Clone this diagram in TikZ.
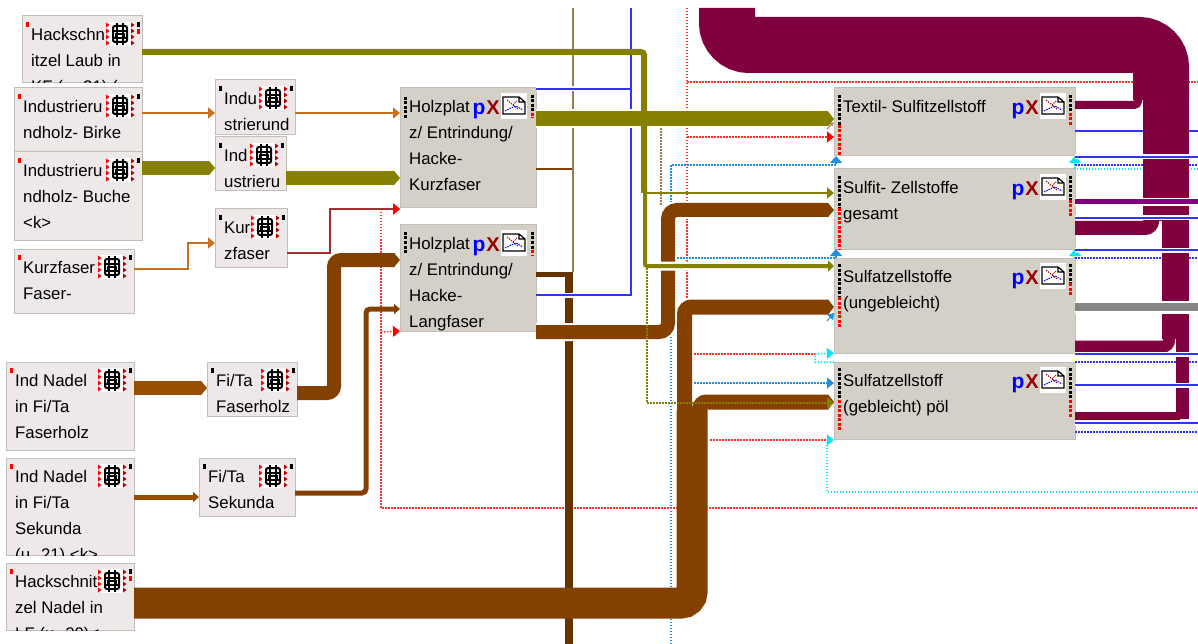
\documentclass[tikz,border=0pt]{standalone}
\usepackage{fontspec}
\setmainfont{Liberation Sans}
\usetikzlibrary{arrows.meta,positioning}
\definecolor{leaffill}{HTML}{EEE8E8}
\definecolor{greyfill}{HTML}{D4D0C8}
\definecolor{boxedge}{HTML}{C2BEBA}
\definecolor{oliveflow}{HTML}{858000}
\definecolor{brownflow}{HTML}{844000}
\definecolor{rustflow}{HTML}{984E00}
\definecolor{darkflow}{HTML}{663300}
\definecolor{thinbrown}{HTML}{A07850}
\definecolor{orangeflow}{HTML}{C8701E}
\definecolor{maroonflow}{HTML}{800040}
\definecolor{purpleflow}{HTML}{800080}
\definecolor{greyflow}{HTML}{858585}
\definecolor{wireblue}{HTML}{3333FF}
\definecolor{dotblue}{HTML}{2090E0}
\definecolor{dotcyan}{HTML}{00E8FF}
\definecolor{dotred}{HTML}{FF3030}
\definecolor{darkwire}{HTML}{A03030}
\newcommand{\boxlabel}[2]{\begin{scope}\clip (#1.north west) rectangle (#1.south east);
    \node[boxtext] (#1-text) at ([shift={(9,11)}]#1.north west) {\rule{0pt}{13pt}#2};\end{scope}}

\begin{document}
\begin{tikzpicture}[
    x=1pt, y=-1pt,
    node distance=8pt,
    leaf/.style={rectangle, draw=boxedge, line width=1pt, fill=leaffill, inner sep=0pt, outer sep=0pt, anchor=north west},
    block/.style={leaf, fill=greyfill},
    boxtext/.style={anchor=north west, inner sep=0pt, align=left, font=\fontsize{16.8}{26}\selectfont},
    pmark/.style={inner sep=0pt, text=blue, font=\fontsize{21}{21}\selectfont\bfseries},
    xmark/.style={inner sep=0pt, text=red!60!black, font=\fontsize{20}{20}\selectfont\bfseries},
    portblack/.style={draw=black, line width=3pt, dash pattern=on 3pt off 1.5pt},
    portred/.style={draw=red, line width=3pt, dash pattern=on 3pt off 1.5pt},
    tagmark/.style={line width=3pt},
    thin tip/.style={-{Triangle[length=7pt,width=11pt]}},
    band tip/.style={-{Triangle[length=6pt,width=#1]}},
    halo/.style={preaction={draw=white, line width=#1, -}},
    wire/.style={draw=wireblue, line width=2pt},
    dotline/.style={line width=1.5pt, dash pattern=on 1.5pt off 1.5pt},
    chipicon/.pic={
        \fill[white] (-11,-12) rectangle (11,12);
        \draw[line width=1.2pt] (-3,-11) -- (-3,11) (3,-11) -- (3,11);
        \draw[line width=2pt, rounded corners=2pt] (-7,-8) rectangle (7,8);
        \draw[line width=1.6pt] (-7,-3) -- (7,-3) (-7,4) -- (7,4);
        \draw[line width=1.2pt] (-4,0) rectangle (4,4);
        \foreach \yy in {-9,-3,3,9}{
            \fill[red] (-14,\yy-2.5) -- (-10.5,\yy) -- (-14,\yy+2.5) -- cycle;
            \fill[red!70!black] (11,\yy-2.5) -- (14.5,\yy) -- (11,\yy+2.5) -- cycle;
        }
    },
    charticon/.pic={
        \fill[white] (-13,-13) rectangle (13,13);
        \draw[line width=1.2pt] (-11,-9) -- (5,-9) -- (11,-4) -- (11,8) -- (-11,8) -- cycle (5,-9) -- (5,-4) -- (11,-4);
        \draw[red!70!black, line width=1pt, dash pattern=on 1.5pt off 1pt] (-7,-6) -- (-1,-1) -- (3,-5) (-1,-1) -- (4,3);
        \draw[blue, line width=1pt, dash pattern=on 1.5pt off 1pt] (-9,5) -- (-3,2) -- (2,0) -- (9,4);
    }
]
    \useasboundingbox (0,0) rectangle (1198,644);

    % source boxes
    \node[leaf, minimum width=120, minimum height=67] (laub) at (22,16) {};
    \node[leaf, minimum width=128, minimum height=64] (birke) at (14,88) {};
    \node[leaf, minimum width=128, minimum height=89, below=0pt of birke.south west, anchor=north west] (buche) {};
    \node[leaf, minimum width=120, minimum height=64, below=of buche.south west, anchor=north west] (kurzleaf) {};
    \node[leaf, minimum width=128, minimum height=88] (nadelfaser) at (6,362) {};
    \node[leaf, minimum width=128, minimum height=97, below=of nadelfaser.south west, anchor=north west] (nadelsek) {};
    \node[leaf, minimum width=128, minimum height=67, below=of nadelsek.south west, anchor=north west] (nadelhack) {};
    \node[leaf, minimum width=80, minimum height=55] (indu) at (215,80) {};
    \node[leaf, minimum width=71, minimum height=54] (ind) at (215,137) {};
    \node[leaf, minimum width=72, minimum height=58] (kur) at (215,209) {};
    \node[leaf, minimum width=90, minimum height=54] (fifaser) at (207,362) {};
    \node[leaf, minimum width=96, minimum height=58] (fisek) at (199,458) {};
    % process boxes
    \node[block, minimum width=136, minimum height=120] (holzkurz) at (400,88) {};
    \node[block, minimum width=136, minimum height=106, below=17pt of holzkurz.south west, anchor=north west] (holzlang) {};
    \node[block, minimum width=241, minimum height=68] (textil) at (834,88) {};
    \node[block, minimum width=241, minimum height=80, below=13pt of textil.south west, anchor=north west] (sulfit) {};
    \node[block, minimum width=241, minimum height=95, below=9pt of sulfit.south west, anchor=north west] (sulfa) {};
    \node[block, minimum width=241, minimum height=77, below=9pt of sulfa.south west, anchor=north west] (sulfg) {};

    \boxlabel{laub}{Hackschn\\itzel Laub in\\KF (u. 21) (}
    \boxlabel{birke}{Industrieru\\ndholz- Birke}
    \boxlabel{buche}{Industrieru\\ndholz- Buche\\<k>}
    \boxlabel{kurzleaf}{Kurzfaser\\Faser-}
    \boxlabel{nadelfaser}{Ind Nadel\\in Fi/Ta\\Faserholz}
    \boxlabel{nadelsek}{Ind Nadel\\in Fi/Ta\\Sekunda\\(u. 21) <k>}
    \boxlabel{nadelhack}{Hackschnit\\zel Nadel in\\LF (u. 20)<}
    \boxlabel{indu}{Indu\\strierund}
    \boxlabel{ind}{Ind\\ustrieru}
    \boxlabel{kur}{Kur\\zfaser}
    \boxlabel{fifaser}{Fi/Ta\\Faserholz}
    \boxlabel{fisek}{Fi/Ta\\Sekunda}
    \boxlabel{holzkurz}{Holzplat\\z/ Entrindung/\\Hacke-\\Kurzfaser}
    \boxlabel{holzlang}{Holzplat\\z/ Entrindung/\\Hacke-\\Langfaser}
    \boxlabel{textil}{Textil- Sulfitzellstoff}
    \boxlabel{sulfit}{Sulfit- Zellstoffe\\gesamt}
    \boxlabel{sulfa}{Sulfatzellstoffe\\(ungebleicht)}
    \boxlabel{sulfg}{Sulfatzellstoff\\(gebleicht) pöl}

    \foreach \nm/\tagcol in {laub/red, birke/red, buche/red, kurzleaf/red, nadelfaser/red, nadelsek/red, nadelhack/red, indu/black, ind/black, kur/black, fifaser/black, fisek/black}{
        \pic at ([shift={(-22,18)}]\nm.north east) {chipicon};
        \draw[tagmark, \tagcol] ([shift={(5,6)}]\nm.north west) -- ([shift={(5,11)}]\nm.north west);
        \draw[tagmark, black] ([shift={(-4,6)}]\nm.north east) -- ([shift={(-4,11)}]\nm.north east);
    }
    \draw[tagmark, red] ([shift={(-4,13)}]laub.north east) -- ([shift={(-4,18)}]laub.north east);
    \draw[tagmark, red] ([shift={(-4,13)}]nadelhack.north east) -- ([shift={(-4,18)}]nadelhack.north east);

    \foreach \nm in {holzkurz, holzlang, textil, sulfit, sulfa, sulfg}{
        \node[pmark] (\nm-p) at ([shift={(-57,23)}]\nm.north east) {p};
        \node[xmark] (\nm-x) at ([shift={(-43,20)}]\nm.north east) {X};
        \pic at ([shift={(-22,18)}]\nm.north east) {charticon};
    }
    \foreach \xx/\ya/\yb/\yc in {405/97/118/118, 532/95/113/118, 405/232/253/253, 532/232/250/255, 839/95/125/155, 1070/95/113/125, 839/176/208/249, 1070/176/200/218, 839/264/297/327, 1070/264/283/295, 839/368/400/431, 1070/368/400/418}{
        \draw[portblack] (\xx,\ya) -- (\xx,\yb);
        \draw[portred] (\xx,\yb) -- (\xx,\yc);
    }

    % dotted links behind the flows
    \coordinate (redtop) at (687,8);
    \coordinate (redend) at (1198,508);
    \draw[dotline, draw=dotred] (redtop) -- (687,299);
    \draw[dotline, draw=dotred] (687,82) -- (1198,82);
    \draw[dotline, draw=dotred, -{Triangle[length=7pt,width=11pt,color=red]}] (687,137) -- (textil.west |- 0,137);
    \draw[dotline, draw=dotred] (381,209) -- (381,508) -- (redend);
    \draw[dotline, draw=dotred, -{Triangle[length=7pt,width=11pt,color=red]}] (381,209) -- (holzkurz.west |- 0,209);
    \draw[dotline, draw=dotred, -{Triangle[length=7pt,width=11pt,color=red]}] (381,332) -- (holzlang.west |- 0,331);
    \draw[dotline, draw=dotred] (694,354) -- (815,354);
    \draw[dotline, draw=dotred] (710,440) -- (827,440);
    \draw[dotline, draw=thinbrown] (661,205) -- (661,119) -- (textil.west |- 0,119);
    \draw[dotline, draw=dotblue, -{Triangle[length=7pt,width=12pt]}] (671,644) -- (671,165) -- (836,165) -- (textil.south west -| 836,0);
    \draw[dotline, draw=dotblue, -{Triangle[length=7pt,width=12pt]}] (671,258) -- (836,258) -- (sulfit.south west -| 836,0);
    \draw[dotline, draw=dotblue, -{Triangle[length=7pt,width=11pt]}] (694,383) -- (sulfg.west |- 0,383);
    \draw[dotline, draw=dotcyan, -{Triangle[length=7pt,width=11pt]}] (sulfg.north west) -- (815,362) -- (815,354) -- (sulfa.south west);
    \draw[dotline, draw=dotcyan, -{Triangle[length=7pt,width=11pt]}] (1198,492) -- (827,492) -- (827,440) -- (sulfg.west |- 0,440);
    \draw[dotline, draw=dotcyan, -{Triangle[length=7pt,width=12pt]}] (1198,169) -- (1075,169) -- (textil.south east);
    \draw[dotline, draw=dotcyan, -{Triangle[length=7pt,width=12pt]}] (1075,258) -- (sulfit.south east);
    \foreach \yy in {165, 258, 362, 432}{
        \draw[dotline, draw=wireblue] (1075,\yy) -- (1198,\yy);
    }
    \draw[wire] (textil.east |- 0,131) -- (1198,131);

    % thin links
    \draw[draw=thinbrown, line width=2pt] (573,8) -- (573,272);
    \draw[wire, halo=5pt] (holzkurz.east |- 0,89) -- (631,89);
    \draw[wire] (holzlang.east |- 0,295) -- (631,295) -- (631,8);
    \draw[draw=brownflow, line width=2pt] (holzkurz.east |- 0,169) -- (572,169);
    \draw[draw=orangeflow, line width=2pt, thin tip] (birke.east |- 0,113) -- (indu.west |- 0,113);
    \draw[draw=orangeflow, line width=2pt, thin tip] (indu.east |- 0,113) -- (holzkurz.west |- 0,113);
    \draw[draw=orangeflow, line width=2pt, thin tip] (kurzleaf.east |- 0,269) -- (188,269) -- (188,243) -- (kur.west |- 0,243);
    \draw[draw=darkwire, line width=2pt, -{Triangle[length=7pt,width=11pt,color=red]}] (kur.east |- 0,253) -- (330,253) -- (330,209) -- (holzkurz.west |- 0,209);
    \draw[draw=darkflow, line width=5pt, rounded corners=2pt] (holzlang.east |- 0,274.5) -- (566,274.5);
    \draw[draw=darkflow, line width=8pt] (569,272) -- (569,644);
    \draw[draw=white, line width=5pt] (555,295) -- (585,295);
    \draw[wire] (holzlang.east |- 0,295) -- (631,295);

    % thick flows
    \draw[draw=oliveflow, line width=14pt, band tip=14pt] (buche.east |- 0,168) -- (ind.west |- 0,168);
    \draw[draw=oliveflow, line width=14pt, band tip=14pt] (ind.east |- 0,178) -- (holzkurz.west |- 0,178);
    \draw[draw=rustflow, line width=14pt, band tip=14pt] (nadelfaser.east |- 0,388) -- (fifaser.west |- 0,388);
    \draw[draw=rustflow, line width=5pt, band tip=10pt] (nadelsek.east |- 0,497) -- (fisek.west |- 0,497);
    \draw[draw=brownflow, line width=14pt, rounded corners=7pt, band tip=14pt] (fifaser.east |- 0,393) -- (334,393) -- (334,260) -- (holzlang.west |- 0,260);
    \draw[draw=brownflow, line width=5pt, rounded corners=4pt, band tip=10pt] (fisek.east |- 0,493) -- (366,493) -- (366,309) -- (holzlang.west |- 0,309);
    \draw[draw=brownflow, line width=14pt, rounded corners=9pt, halo=18pt, band tip=14pt] (holzlang.east |- 0,332) -- (668,332) -- (668,210) -- (sulfit.west |- 0,210);
    \draw[draw=brownflow, line width=31pt, rounded corners=11pt] (nadelhack.east |- 0,603) -- (692,603) -- (692,410);
    \draw[draw=brownflow, line width=15pt, rounded corners=7pt, band tip=15pt] (684.5,412) -- (684.5,307) -- (sulfa.west |- 0,307);
    \draw[draw=brownflow, line width=15pt, rounded corners=7pt, band tip=15pt] (699.5,412) -- (699.5,402) -- (sulfg.west |- 0,402);
    \draw[draw=oliveflow, line width=15pt, halo=19pt, band tip=15pt] (holzkurz.east |- 0,119) -- (textil.west |- 0,119);
    \draw[draw=oliveflow, line width=4pt, rounded corners=2pt, halo=9pt, band tip=11pt] (645,190) -- (645,266) -- (sulfa.west |- 0,266);
    \draw[draw=oliveflow, line width=6pt, rounded corners=3pt] (laub.east |- 0,52) -- (644,52) -- (644,193);
    \draw[draw=oliveflow, line width=2pt, thin tip] (644,193) -- (sulfit.west |- 0,193);
    \draw[dotline, draw=oliveflow, -{Triangle[length=7pt,width=11pt]}] (647,268) -- (647,403) -- (sulfg.west |- 0,403);
    \draw[draw=dotblue, line width=1pt, -{Triangle[length=6pt,width=8pt]}] (827,321) -- (sulfa.west |- 0,313);
    \draw[draw=thinbrown, line width=1pt, -{Triangle[length=4pt,width=3pt]}] (827,129) -- (textil.west |- 0,122);

    % maroon trunk on the right
    \draw[draw=maroonflow, line width=8pt, rounded corners=4pt] (textil.east |- 0,105) -- (1138,105) -- (1138,92);
    \draw[draw=maroonflow, line width=14pt, rounded corners=7pt] (sulfit.east |- 0,228) -- (1152,228) -- (1152,214);
    \draw[draw=maroonflow, line width=12pt, rounded corners=6pt] (sulfa.east |- 0,346.5) -- (1169,346.5) -- (1169,333);
    \draw[draw=maroonflow, line width=8pt] (sulfg.east |- 0,415.5) -- (1180,415.5);
    \draw[draw=maroonflow, line width=56pt, rounded corners=22pt] (727,8) -- (727,45) -- (1161,45) -- (1161,100);
    \draw[draw=maroonflow, line width=46pt] (1166,98) -- (1166,221);
    \draw[draw=maroonflow, line width=27pt] (1175.5,219) -- (1175.5,339);
    \draw[draw=maroonflow, line width=13pt] (1182.5,337) -- (1182.5,419);

    % links in front of the trunk
    \foreach \nm/\yy in {textil/157, sulfit/218, sulfit/250, sulfa/354, sulfg/385, sulfg/423}{
        \draw[wire, halo=5pt] (\nm.east |- 0,\yy) -- (1198,\yy);
    }
    \draw[draw=purpleflow, line width=5pt, halo=8pt] (sulfit.east |- 0,202) -- (1198,202);
    \draw[draw=greyflow, line width=8pt, halo=13pt] (sulfa.east |- 0,307) -- (1198,307);
\end{tikzpicture}
\end{document}
